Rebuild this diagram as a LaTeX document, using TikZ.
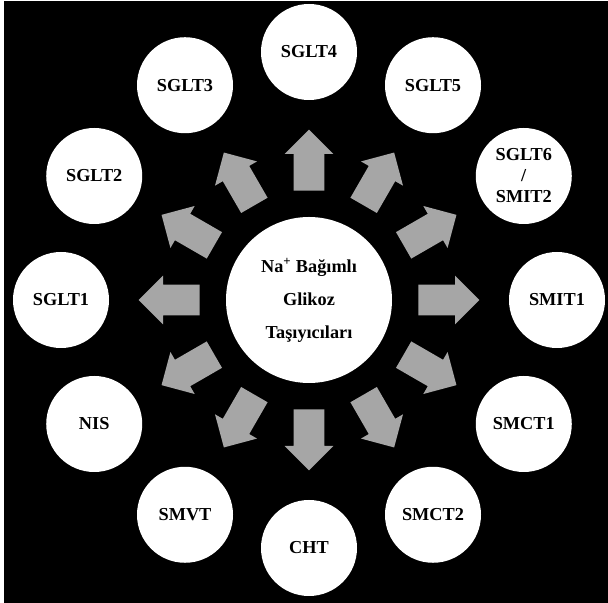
\documentclass[tikz,border=0pt]{standalone}
\usepackage{fontspec}
\setmainfont{Liberation Serif}
\usetikzlibrary{shapes.arrows}

\definecolor{okgri}{RGB}{166,166,166}

\begin{document}
\begin{tikzpicture}[x=0.75pt, y=0.75pt]
        \tikzstyle{halka} = [circle, fill=white, inner sep=0pt, minimum size=72pt, align=center,
                             font=\fontsize{13.7}{15.75}\selectfont\bfseries]
        \tikzstyle{orta}  = [circle, fill=white, inner sep=0pt, minimum size=124.5pt, align=center,
                             font=\fontsize{13.7}{24.75}\selectfont\bfseries]
        \tikzstyle{ok}    = [single arrow, fill=okgri, inner xsep=0pt, inner ysep=11.25pt,
                             minimum height=45.75pt, single arrow head extend=6.75pt, anchor=tail]

        % Arka plan.
        \fill[white] (0,0) rectangle (608,603);
        \fill[black] (4,0) rectangle (608,602);
        \useasboundingbox (0,0) rectangle (608,603);

        % Ortadaki daire.
        \node[orta] (merkez) at (309,303) {Na\textsuperscript{+} Bağımlı\\Glikoz\\Taşıyıcıları};

        % Taşıyıcılar ve oklar.
        \foreach \a/\isim/\yazi in {
                  90/sglt4/SGLT4,
                  60/sglt5/SGLT5,
                  30/sglt6/{SGLT6\\/\\SMIT2},
                   0/smit1/SMIT1,
                 -30/smct1/SMCT1,
                 -60/smct2/SMCT2,
                 -90/cht/CHT,
                -120/smvt/SMVT,
                -150/nis/NIS,
                 180/sglt1/SGLT1,
                 150/sglt2/SGLT2,
                 120/sglt3/SGLT3} {
            \node[halka] (\isim) at ([shift={(\a:248)}]merkez) {\yazi};
            \node[ok, rotate=\a] (ok-\isim) at ([shift={(\a:109)}]merkez) {};
        }
    \end{tikzpicture}
\end{document}
